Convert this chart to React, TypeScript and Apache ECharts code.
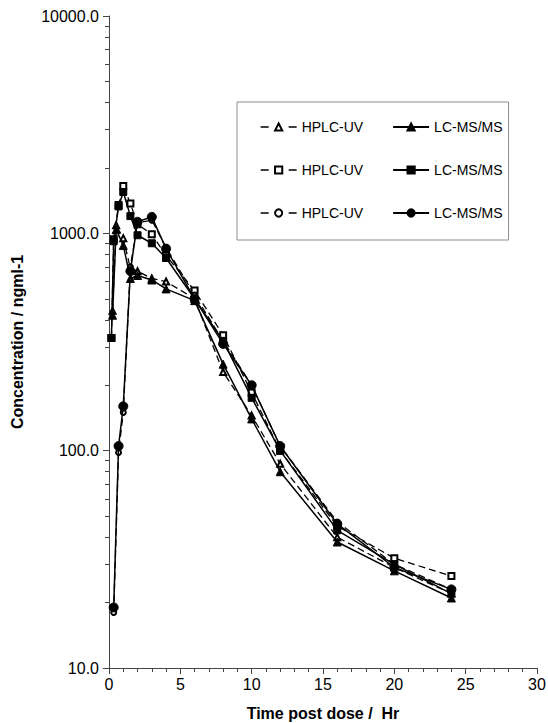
import React, { useEffect, useRef } from "react";
import * as echarts from "echarts";

// Sampling times (hr) and plasma concentrations (ng/ml) for three subjects,
// each measured by HPLC-UV and by LC-MS/MS.
const timesA = [0.25, 0.5, 1, 1.5, 2, 3, 4, 6, 8, 10, 12, 16, 20, 24];
const hplcA = [440, 1090, 950, 690, 670, 620, 600, 500, 230, 145, 87, 40, 29, 22];
const lcmsA = [420, 1040, 880, 620, 640, 610, 555, 490, 250, 140, 80, 38, 28, 21];

const timesB = [0.17, 0.33, 0.67, 1, 1.5, 2, 3, 4, 6, 8, 10, 12, 16, 20, 24];
const hplcB = [330, 940, 1350, 1650, 1370, 1100, 990, 790, 545, 340, 185, 100, 45, 32, 26.5];
const lcmsB = [330, 920, 1330, 1550, 1200, 980, 900, 770, 500, 320, 175, 100, 43, 30, 22];

const timesC = [0.33, 0.67, 1, 1.5, 2, 3, 4, 6, 8, 10, 12, 16, 20, 24];
const hplcC = [18, 98, 150, 700, 1120, 1150, 860, 520, 320, 200, 105, 47, 30, 23];
const lcmsC = [19, 105, 160, 670, 1130, 1190, 850, 500, 310, 200, 105, 46, 29, 23];

const yDecades = [10, 100, 1000, 10000];
const xMax = 30;
const xMajorStep = 5;

const FONT = "'Liberation Sans', Arial, Helvetica, sans-serif";
const AXIS_GREY = "#444";

function makeSeries(
  id: string,
  times: number[],
  values: number[],
  symbol: string,
  size: number,
  dashed: boolean
) {
  return {
    type: "line",
    name: id,
    data: times.map((t, i) => [t, values[i]]),
    symbol,
    symbolSize: size,
    showSymbol: true,
    lineStyle: { color: "#000", width: dashed ? 1.3 : 1.5, type: dashed ? [7, 4] : "solid" },
    itemStyle: { color: "#000", borderColor: "#000", borderWidth: 1 },
    z: dashed ? 2 : 3,
  };
}

export default function App() {
  const ref = useRef<HTMLDivElement>(null);

  useEffect(() => {
    if (!ref.current) return;
    const chart = echarts.init(ref.current, undefined, { renderer: "svg" });

    const lines = [
      makeSeries("HPLC-UV#a", timesA, hplcA, "emptyTriangle", 6, true),
      makeSeries("LC-MS/MS#a", timesA, lcmsA, "triangle", 8, false),
      makeSeries("HPLC-UV#b", timesB, hplcB, "emptyRect", 6, true),
      makeSeries("LC-MS/MS#b", timesB, lcmsB, "rect", 7, false),
      makeSeries("HPLC-UV#c", timesC, hplcC, "emptyCircle", 5, true),
      makeSeries("LC-MS/MS#c", timesC, lcmsC, "circle", 9, false),
    ];

    const legendData = lines.map((s) =>
      s.name.startsWith("HPLC")
        ? { name: s.name, lineStyle: { type: [8, 20], width: 1.3 } }
        : { name: s.name }
    );

    const axisLineStyle = { color: AXIS_GREY, width: 1 };

    const option: any = {
      animation: false,
      backgroundColor: "#fff",
      textStyle: { fontFamily: FONT },
      grid: { left: 109, right: 11, top: 16, bottom: 55, outerBoundsMode: "none" },
      legend: {
        data: legendData,
        left: 237,
        top: 102,
        width: 280,
        orient: "horizontal",
        padding: [18, 6, 20, 23],
        itemWidth: 36,
        itemHeight: 9,
        itemGap: 29,
        borderColor: "#8c8c8c",
        borderWidth: 1,
        backgroundColor: "#fff",
        formatter: (name: string) => name.split("#")[0],
        textStyle: { fontSize: 14, color: "#000", width: 80, fontFamily: FONT },
      },
      xAxis: {
        type: "value",
        min: 0,
        max: xMax,
        interval: xMajorStep,
        name: "Time post dose /  Hr",
        nameLocation: "middle",
        nameGap: 37,
        nameMoveOverlap: false,
        nameTextStyle: { fontWeight: "bold", fontSize: 16, color: "#000", fontFamily: FONT },
        axisLine: { show: true, onZero: false, lineStyle: axisLineStyle },
        axisTick: { show: true, length: 6, lineStyle: axisLineStyle },
        minorTick: { show: true, splitNumber: xMajorStep, length: 4, lineStyle: axisLineStyle },
        axisLabel: { fontSize: 16, color: "#000", margin: 8, fontFamily: FONT },
        splitLine: { show: false },
        minorSplitLine: { show: false },
      },
      yAxis: {
        type: "log",
        logBase: 10,
        min: yDecades[0],
        max: yDecades[yDecades.length - 1],
        name: "Concentration / ngml-1",
        nameLocation: "middle",
        nameGap: 84,
        nameMoveOverlap: false,
        nameTextStyle: { fontWeight: "bold", fontSize: 16, color: "#000", fontFamily: FONT },
        axisLine: { show: true, onZero: false, lineStyle: axisLineStyle },
        axisTick: { show: true, length: 6, lineStyle: axisLineStyle },
        minorTick: { show: true, splitNumber: 9, length: 4, lineStyle: axisLineStyle },
        axisLabel: {
          fontSize: 16,
          color: "#000",
          margin: 10,
          fontFamily: FONT,
          formatter: (v: number) => Number(v).toFixed(1),
        },
        splitLine: { show: false },
        minorSplitLine: { show: false },
      },
      series: lines,
    };

    chart.setOption(option);
    return () => chart.dispose();
  }, []);

  return (
    <div
      ref={ref}
      style={{ position: "fixed", left: 0, top: 0, width: 548, height: 723, background: "#fff" }}
    />
  );
}
